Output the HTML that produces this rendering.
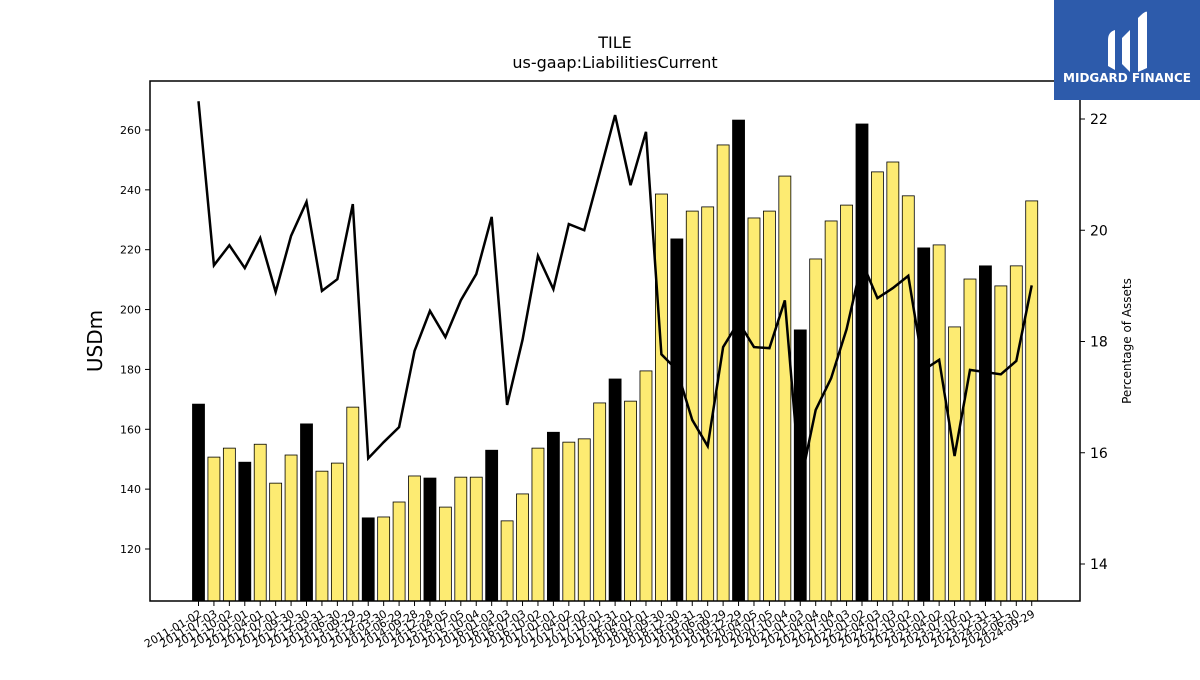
<!DOCTYPE html>
<html><head><meta charset="utf-8"><style>
body{margin:0;background:#fff;}
svg text{font-family:"DejaVu Sans","Liberation Sans",sans-serif;}
</style></head><body>
<svg id="chart" width="1200" height="675" xmlns="http://www.w3.org/2000/svg">
<rect width="1200" height="675" fill="#fff"/>
<text x="615" y="48" font-size="16" text-anchor="middle">TILE</text>
<text x="615" y="68" font-size="16" text-anchor="middle">us-gaap:LiabilitiesCurrent</text>
<g id="bars"></g>
<g id="line"></g>
<rect x="150" y="81" width="930" height="520" fill="none" stroke="#000" stroke-width="1.5"/>
<g id="yleft"></g>
<g id="yright"></g>
<g id="xaxis"></g>
<text transform="translate(102,341) rotate(-90)" font-size="20" text-anchor="middle">USDm</text>
<text transform="translate(1131,341) rotate(-90)" font-size="12" text-anchor="middle">Percentage of Assets</text>
<g>
<rect x="1054" y="0" width="146" height="100" fill="#2d5bab"/>
<path d="M1108 40 Q1108 32 1115 30 L1115 70 L1108 66 Z M1122 38 L1130 30 L1130 72 L1122 64 Z M1138 18 Q1146 10 1147 12 L1147 68 L1138 72 Z" fill="#fff"/>
<text x="1127" y="82" font-size="12" font-weight="bold" fill="#fff" text-anchor="middle" font-family="Liberation Sans">MIDGARD FINANCE</text>
</g>
</svg>
<script>
const categories=["2011-01-02","2011-07-03","2011-10-02","2012-01-01","2012-04-01","2012-07-01","2012-09-30","2012-12-30","2013-03-31","2013-06-30","2013-09-29","2013-12-29","2014-03-30","2014-06-29","2014-09-28","2014-12-28","2015-04-05","2015-07-05","2015-10-04","2016-01-03","2016-04-03","2016-07-03","2016-10-02","2017-01-01","2017-04-02","2017-07-02","2017-10-01","2017-12-31","2018-04-01","2018-07-01","2018-09-30","2018-12-30","2019-03-31","2019-06-30","2019-09-29","2019-12-29","2020-04-05","2020-07-05","2020-10-04","2021-01-03","2021-04-04","2021-07-04","2021-10-03","2022-01-02","2022-04-03","2022-07-03","2022-10-02","2023-01-01","2023-04-02","2023-07-02","2023-10-01","2023-12-31","2024-03-31","2024-06-30","2024-09-29"];
const liabilities=[168.4,150.7,153.7,149,155,142,151.4,161.8,146,148.7,167.4,130.4,130.7,135.7,144.4,143.7,134,144,144,153,129.4,138.4,153.7,159,155.7,156.8,168.8,176.8,169.4,179.5,238.6,223.6,232.9,234.3,255,263.3,230.6,232.9,244.6,193.2,216.9,229.6,234.9,262,246,249.3,238,220.6,221.6,194.2,210.2,214.6,207.9,214.6,236.3];
const pctAssets=[22.32,19.37,19.73,19.32,19.86,18.89,19.9,20.51,18.91,19.12,20.47,15.9,16.19,16.46,17.83,18.55,18.08,18.74,19.21,20.24,16.86,18.03,19.54,18.94,20.11,20,21.03,22.07,20.81,21.77,17.77,17.49,16.59,16.12,17.9,18.35,17.9,17.88,18.74,15.44,16.77,17.34,18.22,19.43,18.78,18.96,19.18,17.49,17.67,15.94,17.49,17.45,17.41,17.65,19.01];
const leftTicks=[120,140,160,180,200,220,240,260];
const rightTicks=[14,16,18,20,22];
const NS="http://www.w3.org/2000/svg";
const yL=v=>549-(v-120)*2.993;
const yR=v=>119+(22-v)*55.625;
const x=i=>198.5+i*15.43;
function mk(t,a,p){const e=document.createElementNS(NS,t);for(const k in a)e.setAttribute(k,a[k]);p.appendChild(e);return e;}
const bars=document.getElementById('bars');
liabilities.forEach((v,i)=>{
 const black=(i===0||i%4===3);
 const r=mk('rect',{x:x(i)-6,y:yL(v),width:12,height:601-yL(v),fill:black?'#000':'#fdeb72',stroke:'#000','stroke-width':0.8},bars);
 
 
});
const line=document.getElementById('line');
const p=mk('polyline',{points:pctAssets.map((v,i)=>x(i)+','+yR(v)).join(' '),fill:'none',stroke:'#000','stroke-width':2.5},line);


const yl=document.getElementById('yleft');
leftTicks.forEach(t=>{mk('line',{x1:145,x2:150,y1:yL(t),y2:yL(t),stroke:'#000'},yl);
 const tx=mk('text',{x:141,y:yL(t)+4,'font-size':11,'text-anchor':'end'},yl);tx.textContent=t;
 
 });
const yr=document.getElementById('yright');
rightTicks.forEach(t=>{mk('line',{x1:1080,x2:1085,y1:yR(t),y2:yR(t),stroke:'#000'},yr);
 const tx=mk('text',{x:1090,y:yR(t)+5,'font-size':14},yr);tx.textContent=t;
 
 });
const xa=document.getElementById('xaxis');
categories.forEach((c,i)=>{mk('line',{x1:x(i),x2:x(i),y1:601,y2:606,stroke:'#000'},xa);
 const tx=mk('text',{transform:`translate(${x(i)+4},${616}) rotate(-30)`,'font-size':11,'text-anchor':'end'},xa);tx.textContent=c;
 
 });
</script>
</body></html>
